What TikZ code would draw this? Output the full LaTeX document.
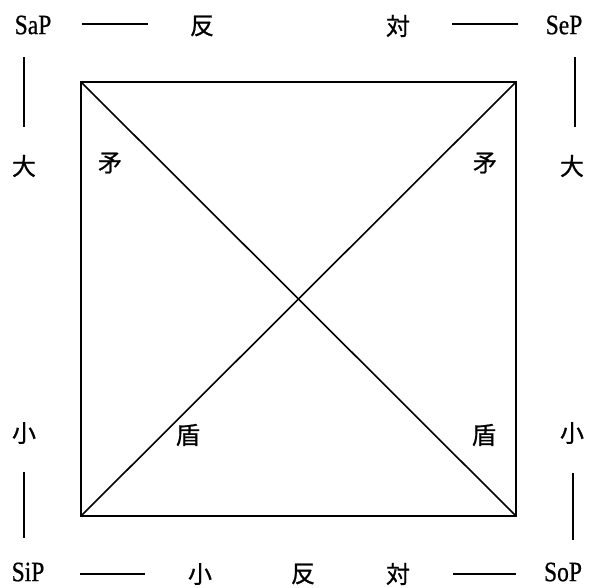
\documentclass[tikz,border=0pt]{standalone}
\usepackage{fontspec}
\setmainfont{Liberation Serif}
\newfontfamily\lat[FakeBold=0.7]{Liberation Serif}
\newfontfamily\cjk[FakeBold=0.8]{Noto Sans CJK JP}
\newcommand{\nrw}[1]{\scalebox{0.84}[1]{#1}}
\begin{document}
\begin{tikzpicture}[x=1pt,y=-1pt,
  lbl/.style={inner sep=0pt,font=\lat\fontsize{28}{28}\selectfont},
  cj/.style={inner sep=0pt,font=\cjk\fontsize{24}{24}\selectfont},
  sq/.style={line width=2.2pt},
  diag/.style={line width=1.6pt},
  bar/.style={line width=2pt}]
\useasboundingbox (0,0) rectangle (596,587);
% square corners
\coordinate (A) at (81,82);
\coordinate (B) at (516,82);
\coordinate (C) at (81,516);
\coordinate (D) at (516,516);
\draw[sq] (A) -- (B) -- (D) -- (C) -- cycle;
\draw[diag] (A) -- (D);
\draw[diag] (B) -- (C);
% corner labels
\node[lbl] (sap) at (33,25) {\nrw{SaP}};
\node[lbl] (sep) at (564,25) {\nrw{SeP}};
\node[lbl] (sip) at (28,572) {\nrw{SiP}};
\node[lbl] (sop) at (563,572) {\nrw{SoP}};
% top row
\node[cj] (t1) at (202,26) {反};
\node[cj] (t2) at (398,26) {対};
\coordinate (td1a) at (82,24); \coordinate (td1b) at (148,24);
\coordinate (td2a) at (452,24); \coordinate (td2b) at (518,24);
\draw[bar] (td1a) -- (td1b);
\draw[bar] (td2a) -- (td2b);
% bottom row
\node[cj] (b1) at (200,574) {小};
\node[cj] (b2) at (303,574) {反};
\node[cj] (b3) at (398,574) {対};
\coordinate (bd1a) at (80,574); \coordinate (bd1b) at (145,574);
\coordinate (bd2a) at (453,574); \coordinate (bd2b) at (516,574);
\draw[bar] (bd1a) -- (bd1b);
\draw[bar] (bd2a) -- (bd2b);
% side labels
\node[cj] (l1) at (24,166) {大};
\node[cj] (l2) at (24,433) {小};
\node[cj] (r1) at (572,166) {大};
\node[cj] (r2) at (572,433) {小};
\coordinate (lv1a) at (24,57); \coordinate (lv1b) at (24,127);
\coordinate (lv2a) at (24,472); \coordinate (lv2b) at (24,538);
\coordinate (rv1a) at (575,57); \coordinate (rv1b) at (575,127);
\coordinate (rv2a) at (573,473); \coordinate (rv2b) at (573,540);
\draw[bar] (lv1a) -- (lv1b);
\draw[bar] (lv2a) -- (lv2b);
\draw[bar] (rv1a) -- (rv1b);
\draw[bar] (rv2a) -- (rv2b);
% inner labels
\node[cj] (m1) at (110,163) {矛};
\node[cj] (m2) at (485,163) {矛};
\node[cj] (d1) at (188,435) {盾};
\node[cj] (d2) at (484,435) {盾};
\end{tikzpicture}
\end{document}
